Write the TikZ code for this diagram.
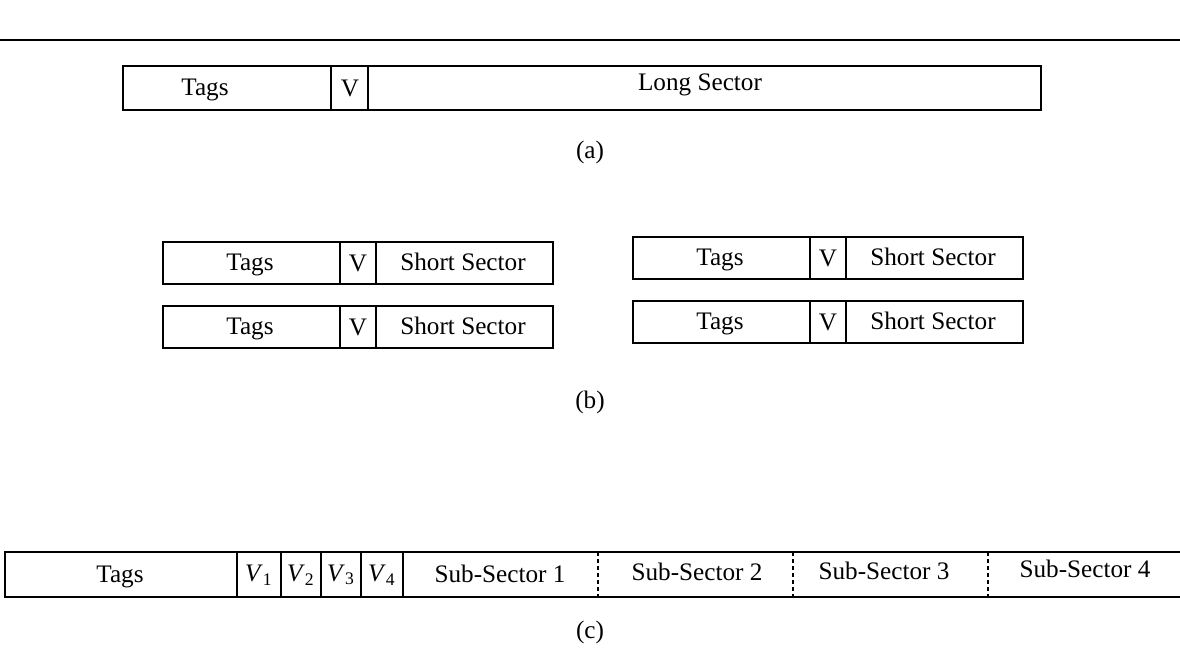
\documentclass[tikz,border=0pt]{standalone}
\usepackage{fontspec}
\setmainfont{Liberation Serif}
\usepackage{tikz}

\tikzset{
  frame/.style={line width=1.1pt},
  sub/.style={line width=0.8pt, dash pattern=on 2pt off 1.5pt},
  lbl/.style={font=\fontsize{12.6}{14}\selectfont, inner sep=1pt}
}

% one record of part (b): left x, top y
\newcommand{\shortrec}[3]{%
  \draw[frame] (#1,#2) rectangle ++(390,42);
  \draw[frame] (#1+177,#2) -- ++(0,42);
  \draw[frame] (#1+213,#2) -- ++(0,42);
  \node[lbl] (#3tags) at (#1+87,#2+23) {Tags};
  \node[lbl] (#3v) at (#1+195,#2+21) {V};
  \node[lbl] (#3sec) at (#1+300,#2+20) {Short Sector};
}

\begin{document}
\begin{tikzpicture}[x=0.5pt, y=-0.5pt]
\useasboundingbox (0,0) rectangle (1180,648);

% Rule
\draw[frame] (0,40) -- (1180,40);

% (a) long sector
\draw[frame] (123,66) rectangle (1041,110);
\draw[frame] (331,66) -- (331,110);
\draw[frame] (368,66) -- (368,110);
\node[lbl] (atags) at (205,90) {Tags};
\node[lbl] (av) at (350,88) {V};
\node[lbl] (asec) at (700,85) {Long Sector};
\node[lbl] (alab) at (590,152) {(a)};

% (b) short sectors
\shortrec{163}{242}{bl}
\shortrec{163}{306}{bm}
\shortrec{633}{237}{br}
\shortrec{633}{301}{bs}
\node[lbl] (blab) at (590,402) {(b)};

% (c) sub-sectors
\draw[frame] (1180,552) -- (5,552) -- (5,597) -- (1180,597);
\foreach \xd in {237,281,321,361,403}
  \draw[frame] (\xd,552) -- (\xd,597);
\foreach \xd in {598,793,988}
  \draw[sub] (\xd,552) -- (\xd,597);
\node[lbl] (ctags) at (120,577) {Tags};
\node[lbl] (cv1) at (259,575) {\textit{V}\textsubscript{1}};
\node[lbl] (cv2) at (301,575) {\textit{V}\textsubscript{2}};
\node[lbl] (cv3) at (341,575) {\textit{V}\textsubscript{3}};
\node[lbl] (cv4) at (382,575) {\textit{V}\textsubscript{4}};
\node[lbl] (cs1) at (500,574) {Sub-Sector 1};
\node[lbl] (cs2) at (697,572) {Sub-Sector 2};
\node[lbl] (cs3) at (884,571) {Sub-Sector 3};
\node[lbl] (cs4) at (1085,569) {Sub-Sector 4};
\node[lbl] (clab) at (590,632) {(c)};

\end{tikzpicture}
\end{document}
